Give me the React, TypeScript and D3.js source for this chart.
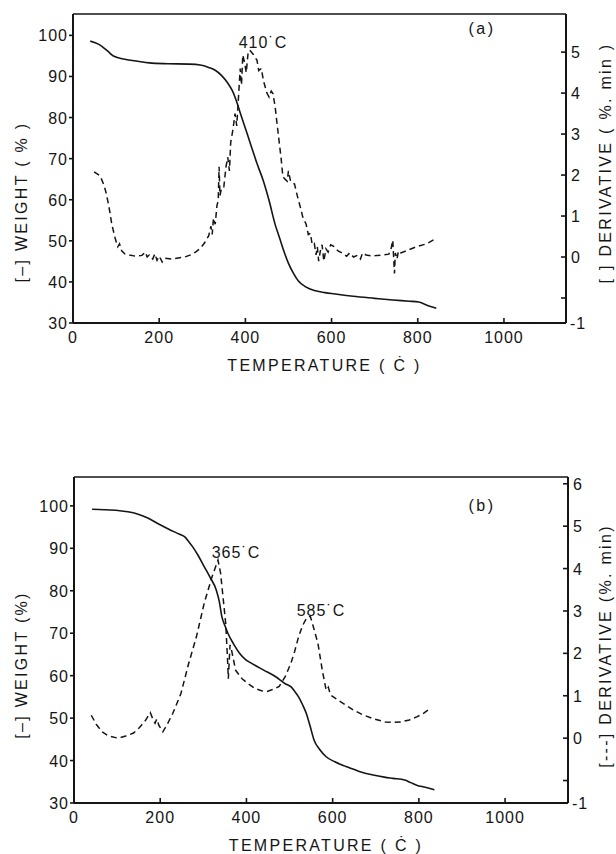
import React from "react";
import * as d3 from "d3";

// ---------- DATA ----------
const xTicks = [0, 200, 400, 600, 800, 1000];
const weightTicks = [30, 40, 50, 60, 70, 80, 90, 100];
const derivTicksA = [0, 1, 2, 3, 4, 5];
const derivTicksB = [0, 1, 2, 3, 4, 5, 6];

// Panel (a) weight (solid)
const weightTempA = [40, 60, 80, 95, 120, 150, 177, 220, 268, 295, 315, 330, 345, 359, 370, 378, 387, 396, 405, 414, 427, 441, 455, 469, 480, 490, 500, 512, 523, 540, 560, 585, 605, 650, 700, 742, 780, 802, 820, 843];
const weightA = [98.6, 97.8, 96.2, 94.9, 94.2, 93.7, 93.3, 93.1, 93.0, 92.8, 92.2, 91.5, 90.2, 88.4, 86.5, 84.4, 81.5, 78.6, 75.8, 72.9, 68.8, 64.8, 59.8, 54.0, 50.5, 47.3, 44.5, 42.0, 40.2, 38.8, 37.9, 37.4, 37.1, 36.5, 36.0, 35.6, 35.3, 35.1, 34.4, 33.6];

// Panel (a) derivative (dashed)
const derivTempA = [49, 63, 72, 77, 82, 86, 90, 95, 98, 104, 108, 113, 120, 131, 145, 160, 168, 172, 177, 185, 190, 195, 200, 207, 213, 230, 259, 275, 286, 296, 305, 315, 320, 323, 326, 330, 334, 337, 339, 341, 345, 350, 355, 359, 363, 366, 371, 376, 380, 384, 388, 391, 394, 398, 402, 406, 410, 418, 427, 431, 437, 442, 446, 450, 455, 460, 464, 469, 473, 478, 483, 487, 492, 497, 500, 505, 514, 518, 523, 528, 533, 541, 546, 551, 555, 560, 564, 567, 570, 574, 578, 582, 587, 592, 598, 605, 615, 624, 635, 642, 651, 660, 667, 672, 680, 695, 706, 720, 733, 738, 742, 744, 746, 748, 752, 755, 761, 780, 797, 820, 843];
const derivA = [2.08, 1.98, 1.75, 1.56, 1.3, 1.07, 0.8, 0.58, 0.45, 0.25, 0.32, 0.15, 0.08, 0.05, 0.02, 0.04, 0.12, 0.0, 0.05, -0.05, 0.08, -0.08, 0.02, -0.12, -0.03, -0.05, 0.0, 0.06, 0.13, 0.22, 0.34, 0.52, 0.75, 0.55, 0.95, 0.8, 1.25, 1.39, 2.2, 1.5, 1.7, 1.71, 2.2, 2.44, 2.1, 2.8, 3.1, 3.5, 3.2, 3.9, 4.6, 4.2, 4.93, 4.75, 4.5, 4.95, 5.05, 4.95, 4.8, 4.55, 4.6, 4.3, 4.15, 4.0, 3.9, 4.05, 3.99, 3.67, 3.3, 2.85, 2.4, 1.96, 1.9, 1.85, 2.1, 1.84, 1.78, 1.6, 1.39, 1.2, 0.98, 0.8, 0.55, 0.58, 0.3, 0.33, 0.05, 0.25, -0.1, 0.15, 0.3, -0.1, 0.2, 0.12, 0.3, 0.26, 0.15, 0.1, 0.02, 0.1, 0.0, 0.04, -0.05, 0.1, 0.05, 0.02, 0.04, 0.05, 0.07, 0.2, 0.41, 0.0, -0.4, 0.1, -0.05, 0.15, 0.1, 0.18, 0.25, 0.32, 0.46];

// Panel (b) weight (solid)
const weightTempB = [42, 70, 102, 125, 147, 170, 193, 220, 245, 257, 266, 275, 288, 302, 316, 330, 337, 343, 350, 357, 370, 384, 398, 412, 440, 467, 490, 503, 512, 521, 530, 539, 548, 557, 570, 585, 605, 631, 660, 694, 720, 740, 767, 781, 795, 815, 836];
const weightB = [99.2, 99.1, 98.9, 98.6, 98.1, 97.2, 95.9, 94.5, 93.3, 92.7, 91.6, 90.4, 88.3, 85.7, 83.1, 80.2, 77.5, 73.9, 71.8, 70.0, 67.5, 65.3, 63.8, 62.9, 61.3, 59.8, 58.1, 57.4, 56.3, 55.0, 53.2, 51.1, 48.0, 44.8, 42.6, 40.9, 39.7, 38.6, 37.5, 36.6, 36.1, 35.8, 35.4, 34.8, 34.2, 33.7, 33.1];

// Panel (b) derivative (dashed)
const derivTempB = [40, 52, 65, 80, 102, 120, 138, 152, 166, 177, 183, 188, 192, 197, 206, 215, 229, 248, 266, 284, 302, 320, 334, 340, 345, 352, 356, 358, 362, 366, 375, 390, 403, 420, 435, 448, 462, 476, 490, 503, 512, 521, 530, 539, 548, 556, 566, 576, 585, 590, 595, 612, 630, 649, 670, 694, 722, 740, 758, 778, 795, 810, 826];
const derivB = [0.54, 0.32, 0.15, 0.05, 0.0, 0.05, 0.12, 0.25, 0.42, 0.6, 0.45, 0.35, 0.45, 0.3, 0.15, 0.3, 0.58, 1.05, 1.76, 2.39, 3.18, 3.8, 4.2, 3.9, 3.4, 2.7, 1.9, 1.4, 2.2, 2.05, 1.6, 1.4, 1.29, 1.17, 1.12, 1.1, 1.15, 1.22, 1.45, 1.76, 2.05, 2.39, 2.65, 2.82, 2.88, 2.6, 2.23, 1.6, 1.13, 1.2, 1.02, 0.9, 0.78, 0.66, 0.55, 0.46, 0.38, 0.37, 0.38, 0.43, 0.5, 0.58, 0.7];

const FONT = "'Liberation Sans', Arial, sans-serif";

type PanelProps = {
  left: number; right: number; top: number; bottom: number;
  xMax: number; wDomain: [number, number]; dDomain: [number, number];
  tempW: number[]; w: number[]; tempD: number[]; d: number[];
  derivTicks: number[];
  tag: string;
  tagPos: [number, number];
  peaks: { text: string; x: number; y: number }[];
  leftLabel: string; rightLabel: string;
  leftLabelY: number; rightLabelY: number;
};

function Panel(p: PanelProps) {
  const x = d3.scaleLinear().domain([0, p.xMax]).range([p.left, p.right]);
  const yW = d3.scaleLinear().domain(p.wDomain).range([p.bottom, p.top]);
  const yD = d3.scaleLinear().domain(p.dDomain).range([p.bottom, p.top]);
  const solid = d3.line<number>().x((_, i) => x(p.tempW[i])).y((v) => yW(v)).curve(d3.curveMonotoneX);
  const dashed = d3.line<number>().x((_, i) => x(p.tempD[i])).y((v) => yD(v));
  const ink = "#151515";
  return (
    <g fontFamily={FONT} fill={ink}>
      {/* frame */}
      <line x1={p.left} x2={p.right} y1={p.top} y2={p.top} stroke={ink} strokeWidth={1.4} />
      <line x1={p.left} x2={p.left} y1={p.top} y2={p.bottom} stroke={ink} strokeWidth={2} />
      <line x1={p.right} x2={p.right} y1={p.top} y2={p.bottom} stroke={ink} strokeWidth={2} />
      <line x1={p.left} x2={p.right} y1={p.bottom} y2={p.bottom} stroke={ink} strokeWidth={2} />
      {/* x ticks */}
      {xTicks.map((t) => (
        <g key={"x" + t}>
          {t > 0 && <line x1={x(t)} x2={x(t)} y1={p.bottom} y2={p.bottom - 5} stroke={ink} strokeWidth={1.6} />}
          <text x={x(t)} y={p.bottom + 20} fontSize={16} textAnchor="middle" letterSpacing={1}>{t}</text>
        </g>
      ))}
      {/* left ticks */}
      {weightTicks.map((t) => (
        <g key={"w" + t}>
          <line x1={p.left - 4} x2={p.left} y1={yW(t)} y2={yW(t)} stroke={ink} strokeWidth={1.6} />
          <text x={p.left - 5} y={yW(t) + 6} fontSize={16} textAnchor="end" letterSpacing={1}>{t}</text>
        </g>
      ))}
      {/* right ticks */}
      {[-1, ...p.derivTicks].map((t) => (
        <line key={"d" + t} x1={p.right - 5} x2={p.right} y1={yD(t)} y2={yD(t)} stroke={ink} strokeWidth={1.6} />
      ))}
      {p.derivTicks.map((t) => (
        <text key={"dl" + t} x={p.right + 5} y={yD(t) + 6} fontSize={16} letterSpacing={1}>{t}</text>
      ))}
      <text x={p.right + 4} y={p.bottom + 6} fontSize={16} letterSpacing={1}>-1</text>
      {/* curves */}
      <path d={solid(p.w) || ""} fill="none" stroke={ink} strokeWidth={1.6} />
      <path d={dashed(p.d) || ""} fill="none" stroke={ink} strokeWidth={1.5} strokeDasharray="6,4" />
      {/* annotations */}
      <text x={p.tagPos[0]} y={p.tagPos[1]} fontSize={16} textAnchor="middle" letterSpacing={2.5}>{p.tag}</text>
      {p.peaks.map((pk) => (
        <text key={pk.text} x={pk.x} y={pk.y} fontSize={16} textAnchor="middle" letterSpacing={1}>{pk.text}</text>
      ))}
      {/* axis titles */}
      <text x={(p.left + p.right) / 2 + 5} y={p.bottom + 48} fontSize={16} textAnchor="middle" letterSpacing={2.3}>TEMPERATURE ( Ċ )</text>
      <text transform={`translate(27,${p.leftLabelY}) rotate(-90)`} fontSize={16} textAnchor="middle" letterSpacing={2.3}>{p.leftLabel}</text>
      <text transform={`translate(611,${p.rightLabelY}) rotate(-90)`} fontSize={16} textAnchor="middle" letterSpacing={2.3}>{p.rightLabel}</text>
    </g>
  );
}

export default function App() {
  return (
    <svg width={616} height={854} style={{ position: "absolute", left: 0, top: 0, background: "#fff" }}>
      <rect width={616} height={854} fill="#fff" />
      <Panel
        left={73} right={566} top={14} bottom={323}
        xMax={1144} wDomain={[30, 105.2]} dDomain={[-1.61, 5.93]}
        tempW={weightTempA} w={weightA} tempD={derivTempA} d={derivA}
        derivTicks={derivTicksA}
        tag="(a)" tagPos={[482, 34]}
        peaks={[{ text: "410˙C", x: 263, y: 48 }]}
        leftLabel="[–]  WEIGHT  ( % )" rightLabel="[  ]  DERIVATIVE  ( %. min )"
        leftLabelY={202} rightLabelY={163}
      />
      <Panel
        left={74} right={568} top={477} bottom={803}
        xMax={1146} wDomain={[30, 106.8]} dDomain={[-1.53, 6.16]}
        tempW={weightTempB} w={weightB} tempD={derivTempB} d={derivB}
        derivTicks={derivTicksB}
        tag="(b)" tagPos={[482, 511]}
        peaks={[{ text: "365˙C", x: 236, y: 558 }, { text: "585˙C", x: 321, y: 616 }]}
        leftLabel="[–]  WEIGHT  (%)" rightLabel="[---]  DERIVATIVE  (%. min)"
        leftLabelY={665} rightLabelY={646}
      />
    </svg>
  );
}
